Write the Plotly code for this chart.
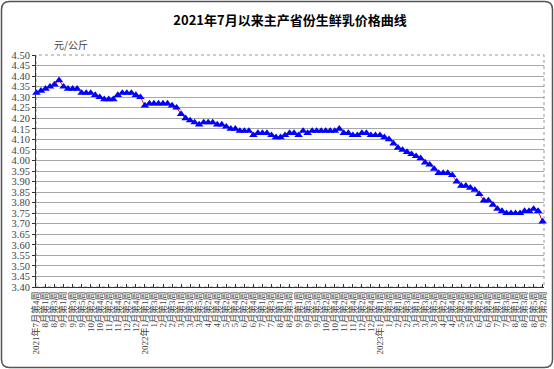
import plotly.graph_objects as go

title_text = "2021年7月以来主产省份生鲜乳价格曲线"
unit_text = "元/公斤"

weeks_2021 = ["2021年7月第4周", "7月第5周", "8月第1周", "8月第2周", "8月第3周", "8月第4周",
              "9月第1周", "9月第2周", "9月第3周", "9月第4周", "9月第5周",
              "10月第1周", "10月第2周", "10月第3周", "10月第4周",
              "11月第1周", "11月第2周", "11月第3周", "11月第4周",
              "12月第1周", "12月第2周", "12月第3周", "12月第4周", "12月第5周"]
weeks_2022 = ["2022年1月第1周", "1月第2周", "1月第3周", "1月第4周",
              "2月第1周", "2月第2周", "2月第3周", "2月第4周",
              "3月第1周", "3月第2周", "3月第3周", "3月第4周", "3月第5周",
              "4月第1周", "4月第2周", "4月第3周", "4月第4周",
              "5月第1周", "5月第2周", "5月第3周", "5月第4周",
              "6月第1周", "6月第2周", "6月第3周", "6月第4周", "6月第5周",
              "7月第1周", "7月第2周", "7月第3周", "7月第4周",
              "8月第1周", "8月第2周", "8月第3周", "8月第4周",
              "9月第1周", "9月第2周", "9月第3周", "9月第4周", "9月第5周",
              "10月第1周", "10月第2周", "10月第3周", "10月第4周",
              "11月第1周", "11月第2周", "11月第3周", "11月第4周",
              "12月第1周", "12月第2周", "12月第3周", "12月第4周", "12月第5周"]
weeks_2023 = ["2023年1月第1周", "1月第2周", "1月第3周", "1月第4周",
              "2月第1周", "2月第2周", "2月第3周", "2月第4周",
              "3月第1周", "3月第2周", "3月第3周", "3月第4周", "3月第5周",
              "4月第1周", "4月第2周", "4月第3周", "4月第4周",
              "5月第1周", "5月第2周", "5月第3周", "5月第4周",
              "6月第1周", "6月第2周", "6月第3周", "6月第4周", "6月第5周",
              "7月第1周", "7月第2周", "7月第3周", "7月第4周",
              "8月第1周", "8月第2周", "8月第3周", "8月第4周", "8月第5周",
              "9月第1周", "9月第2周"]
weeks = weeks_2021 + weeks_2022 + weeks_2023

prices = [4.32, 4.33, 4.34, 4.35, 4.36, 4.38, 4.35, 4.34, 4.34, 4.34,
          4.32, 4.32, 4.32, 4.31, 4.30, 4.29, 4.29, 4.29, 4.31, 4.32,
          4.32, 4.32, 4.31, 4.30, 4.26, 4.27, 4.27, 4.27, 4.27, 4.27,
          4.26, 4.25, 4.22, 4.20, 4.19, 4.18, 4.17, 4.18, 4.18, 4.18,
          4.17, 4.17, 4.16, 4.15, 4.15, 4.14, 4.14, 4.14, 4.12, 4.13,
          4.13, 4.13, 4.12, 4.11, 4.11, 4.12, 4.13, 4.13, 4.12, 4.14,
          4.13, 4.14, 4.14, 4.14, 4.14, 4.14, 4.14, 4.15, 4.13, 4.13,
          4.12, 4.12, 4.13, 4.13, 4.12, 4.12, 4.12, 4.11, 4.10, 4.08,
          4.06, 4.05, 4.04, 4.03, 4.02, 4.01, 3.99, 3.98, 3.96, 3.94,
          3.94, 3.94, 3.93, 3.90, 3.88, 3.88, 3.87, 3.86, 3.84, 3.81,
          3.81, 3.79, 3.77, 3.76, 3.75, 3.75, 3.75, 3.75, 3.76, 3.76,
          3.77, 3.76, 3.71]

y_ticks = [round(3.40 + 0.05 * i, 2) for i in range(23)]
y_ticktext = [f"{v:.2f}" for v in y_ticks]

x_idx = list(range(len(weeks)))
tick_idx = x_idx[::2]
tick_text = [weeks[i] for i in tick_idx]

W, H = 554, 369
ml, mr, mt, mb = 36, 10, 55, 82
pw, ph = W - ml - mr, H - mt - mb

def px(x):
    return (x - ml) / pw

def py(y):
    return (H - mb - y) / ph

fig = go.Figure()
fig.add_trace(go.Scatter(
    x=x_idx, y=prices, mode="lines+markers",
    line=dict(color="#FF0000", width=1),
    marker=dict(symbol="triangle-up", size=7.5, color="#0000FF"),
    cliponaxis=False, showlegend=False,
    customdata=weeks, hovertemplate="%{customdata}: %{y:.2f}<extra></extra>",
))

# rounded outer border
x0, x1, y0, y1 = px(1.5), px(552.5), py(1.5), py(367.5)
rx, ry = 8 / pw, 8 / ph
path = (f"M {x0+rx},{y0} L {x1-rx},{y0} Q {x1},{y0} {x1},{y0-ry} "
        f"L {x1},{y1+ry} Q {x1},{y1} {x1-rx},{y1} "
        f"L {x0+rx},{y1} Q {x0},{y1} {x0},{y1+ry} "
        f"L {x0},{y0-ry} Q {x0},{y0} {x0+rx},{y0} Z")
fig.add_shape(type="path", xref="paper", yref="paper", path=path,
              line=dict(color="#555555", width=1.5), layer="below")
# dashed plot-area border
fig.add_shape(type="rect", xref="paper", yref="paper", x0=0, x1=1, y0=0, y1=1,
              line=dict(color="#999999", width=1, dash="dot"), layer="below")

fig.update_layout(
    width=W, height=H,
    margin=dict(l=ml, r=mr, t=mt, b=mb, autoexpand=False),
    paper_bgcolor="white", plot_bgcolor="white",
    title=dict(text=f"<b>{title_text}</b>", x=(ml + pw / 2) / W, xanchor="center",
               y=1 - 20 / H, yanchor="middle",
               font=dict(family="Noto Sans CJK SC", size=13, color="#000000")),
    annotations=[dict(text=unit_text, xref="paper", yref="paper",
                      x=px(52), y=py(45), xanchor="left", yanchor="middle",
                      showarrow=False,
                      font=dict(family="Noto Sans CJK SC", size=10, color="#444444"))],
    xaxis=dict(range=[-0.1, 112.3], tickmode="array", tickvals=tick_idx, ticktext=tick_text,
               tickangle=-90, showgrid=False, zeroline=False, automargin=False,
               showline=True, linecolor="#333333", linewidth=1,
               ticks="inside", ticklen=3, tickcolor="#333333",
               tickfont=dict(family="Liberation Serif, Noto Sans CJK SC", size=9, color="#444444")),
    yaxis=dict(range=[3.40, 4.50], tickmode="array", tickvals=y_ticks, ticktext=y_ticktext,
               showgrid=True, gridcolor="#A8A8A8", gridwidth=1, zeroline=False, automargin=False,
               showline=True, linecolor="#333333", linewidth=1,
               ticks="outside", ticklen=3, tickcolor="#333333",
               tickfont=dict(family="Liberation Serif", size=10.5, color="#444444")),
)

fig.write_html("out.html", config={"displayModeBar": False},
               post_script="document.body.style.margin='0px';")
